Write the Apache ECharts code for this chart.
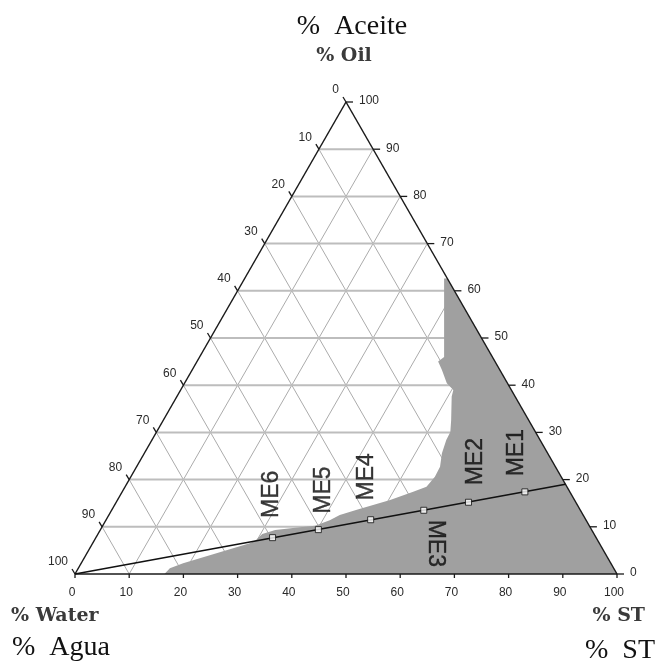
<!DOCTYPE html>
<html>
<head>
<meta charset="utf-8">
<script src="https://cdn.jsdelivr.net/npm/echarts@6/dist/echarts.min.js"></script>
<style>html,body{margin:0;padding:0;background:#fff}#c{width:658px;height:664px}</style>
</head>
<body>
<div id="c"></div>
<script>
// ---- data (ternary compositions, %) ----
const tickValues = [0, 10, 20, 30, 40, 50, 60, 70, 80, 90, 100];
const gridValues = [10, 20, 30, 40, 50, 60, 70, 80, 90];
// one-phase (gray) region boundary: oil %, ST %
const boundaryOil = [62.6, 62.6, 46.0, 45.0, 43.2, 40.4, 39.0, 37.6, 32.6, 30.1, 28.4, 25.6, 22.7, 20.6, 18.5, 17.4, 15.7, 14.6, 13.6, 12.5, 11.4, 10.2, 9.8, 9.3, 8.5, 7.2, 6.5, 4.4, 2.3, 1.2, 0, 0];
const boundarySt  = [37.4, 36.8, 45.1, 44.5, 46.1, 48.4, 50.3, 50.7, 53.1, 54.2, 54.3, 54.9, 56.0, 56.1, 55.6, 53.7, 50.3, 47.7, 45.2, 42.6, 41.3, 39.2, 35.7, 32.3, 30.3, 29.8, 29.0, 23.9, 18.8, 16.9, 16.5, 100];
// dilution line: from 100 % water to oil/ST = 19/81
const dilutionOil = [0, 19];
const dilutionSt = [0, 81];
// microemulsion points
const meNames = ['ME1', 'ME2', 'ME3', 'ME4', 'ME5', 'ME6'];
const meOil = [17.4, 15.2, 13.5, 11.5, 9.4, 7.7];
const meSt  = [74.3, 65.0, 57.6, 48.8, 40.2, 32.6];
// label anchors (oil %, ST %) and rotation
const meLabelOil = [25.7, 23.8, 6.5, 20.6, 17.8, 16.9];
const meLabelSt  = [68.6, 62.1, 63.2, 43.5, 36.9, 27.8];
const meLabelRot = [90, 90, -90, 90, 90, 90];

const SQ = Math.sqrt(3) / 2;
function tern(oil, st) { return [st + oil / 2, oil * SQ]; }

// grid segments
const hSeg = [], dSeg = [];
gridValues.forEach(k => {
  hSeg.push(tern(k, 0).concat(tern(k, 100 - k)));          // constant oil
  dSeg.push(tern(0, k).concat(tern(100 - k, k)));          // constant ST
  dSeg.push(tern(0, 100 - k).concat(tern(100 - k, 0)));    // constant water
});
const border = [
  tern(0, 0).concat(tern(0, 100)),
  tern(0, 100).concat(tern(100, 0)),
  tern(100, 0).concat(tern(0, 0))
];
const polyPts = boundaryOil.map((o, i) => tern(o, boundarySt[i]));

// ticks: [x, y, axis, value]
const ticks = [];
tickValues.forEach(v => {
  ticks.push(tern(100 - v, 0).concat([0, v]));   // left: water
  ticks.push(tern(v, 100 - v).concat([1, v]));   // right: oil
  ticks.push(tern(0, v).concat([2, v]));         // bottom: ST
});

function segSeries(data, color, width, z) {
  return {
    type: 'custom', z: z, silent: true,
    data: data,
    encode: { x: [0, 2], y: [1, 3] },
    renderItem: function (params, api) {
      const a = api.coord([api.value(0), api.value(1)]);
      const b = api.coord([api.value(2), api.value(3)]);
      return { type: 'line', shape: { x1: a[0], y1: a[1], x2: b[0], y2: b[1] },
        style: { stroke: color, lineWidth: width } };
    }
  };
}

const chart = echarts.init(document.getElementById('c'));
chart.setOption({
  animation: false,
  grid: { left: 75, right: 41, top: 102, bottom: 90 },
  xAxis: { type: 'value', min: 0, max: 100, show: false },
  yAxis: { type: 'value', min: 0, max: 100 * SQ, show: false },
  graphic: [
    { type: 'text', style: { x: 352, y: 27, text: '%  Aceite', font: '28px "Liberation Serif"', fill: '#111', textAlign: 'center', textVerticalAlign: 'middle' } },
    { type: 'text', style: { x: 344, y: 56, text: '% Oil', font: 'bold 19px "DejaVu Serif"', fill: '#3a3a3a', textAlign: 'center', textVerticalAlign: 'middle' } },
    { type: 'text', style: { x: 11, y: 616, text: '% Water', font: 'bold 19px "DejaVu Serif"', fill: '#3a3a3a', textAlign: 'left', textVerticalAlign: 'middle' } },
    { type: 'text', style: { x: 12, y: 648, text: '%  Agua', font: '28px "Liberation Serif"', fill: '#111', textAlign: 'left', textVerticalAlign: 'middle' } },
    { type: 'text', style: { x: 645, y: 616, text: '% ST', font: 'bold 19px "DejaVu Serif"', fill: '#3a3a3a', textAlign: 'right', textVerticalAlign: 'middle' } },
    { type: 'text', style: { x: 655, y: 651, text: '%  ST', font: '28px "Liberation Serif"', fill: '#111', textAlign: 'right', textVerticalAlign: 'middle' } }
  ],
  series: [
    segSeries(dSeg, '#ababab', 1, 1),
    segSeries(hSeg, '#bdbdbd', 2, 1),
    {
      type: 'custom', z: 2, silent: true,
      data: polyPts,
      encode: { x: 0, y: 1 },
      renderItem: function (params, api) {
        if (params.dataIndex !== 0) return null;
        const pts = polyPts.map(p => api.coord(p));
        return { type: 'polygon', shape: { points: pts }, style: { fill: '#a0a0a0' } };
      }
    },
    segSeries(border, '#1a1a1a', 1.5, 3),
    {
      type: 'custom', z: 3, silent: true,
      data: ticks,
      encode: { x: 0, y: 1 },
      renderItem: function (params, api) {
        const p = api.coord([api.value(0), api.value(1)]);
        const ax = api.value(2), v = api.value(3);
        let t, lx, ly, align;
        if (ax === 0) { t = [-3, -5]; lx = p[0] - 7; ly = p[1] - 12; align = 'right'; }
        else if (ax === 1) { t = [7, 0]; lx = p[0] + 13; ly = p[1] - 1; align = 'left'; }
        else { t = [0, 4]; lx = p[0] - 3; ly = p[1] + 19; align = 'center'; }
        return { type: 'group', children: [
          { type: 'line', shape: { x1: p[0], y1: p[1], x2: p[0] + t[0], y2: p[1] + t[1] }, style: { stroke: '#1a1a1a', lineWidth: 1.3 } },
          { type: 'text', style: { x: lx, y: ly, text: String(v), font: '12px "Liberation Sans"', fill: '#2a2a2a', textAlign: align, textVerticalAlign: 'middle' } }
        ] };
      }
    },
    {
      type: 'line', z: 4, silent: true, symbol: 'none',
      data: dilutionOil.map((o, i) => tern(o, dilutionSt[i])),
      lineStyle: { color: '#111', width: 1.5 }
    },
    {
      type: 'scatter', z: 5, silent: true, symbol: 'rect', symbolSize: 6,
      data: meOil.map((o, i) => ({ name: meNames[i], value: tern(o, meSt[i]) })),
      itemStyle: { color: '#fff', borderColor: '#111', borderWidth: 1 }
    },
    {
      type: 'scatter', z: 6, silent: true, symbolSize: 0,
      data: meLabelOil.map((o, i) => ({ name: meNames[i], value: tern(o, meLabelSt[i]),
        label: { rotate: meLabelRot[i] } })),
      label: { show: true, position: 'inside', formatter: '{b}', fontFamily: 'Liberation Sans', fontSize: 23, color: '#0a0a0a', textBorderColor: '#0a0a0a', textBorderWidth: 0.4 }
    }
  ]
});
</script>
</body>
</html>
